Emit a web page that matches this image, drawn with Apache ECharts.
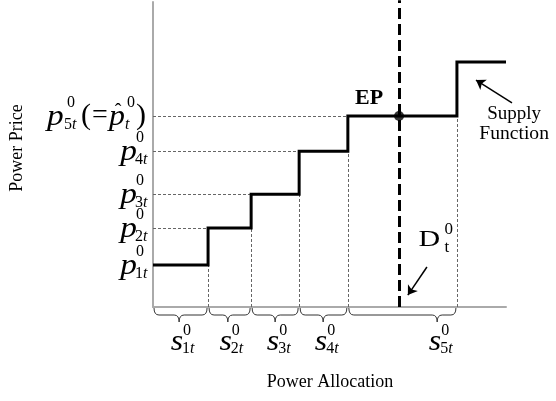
<!DOCTYPE html>
<html><head><meta charset="utf-8">
<script src="https://cdn.jsdelivr.net/npm/echarts@6/dist/echarts.min.js"></script>
<style>html,body{margin:0;padding:0;background:#fff}#c{width:556px;height:401px}</style>
</head><body><div id="c"></div>
<script>
// ---- data ----
const stepBounds = [0, 15.6, 27.8, 41.4, 55.2, 86.1, 100];   // supply blocks boundaries (power allocation)
const stepPrices = [13.8, 25.9, 37.0, 51.1, 62.6, 80.3];      // price of each block
const demandLevel = 69.7;                                     // D_t^0
const braceTips = [7.4, 21.2, 34.6, 48.2, 80.5];              // where each s brace points
const sDigits = ['1', '2', '3', '4', '5'];
const pDigits = ['1', '2', '3', '4', '5'];
const xAxisName = 'Power Allocation';
const yAxisName = 'Power Price';

// annotation anchors (data units)
const arrowDefs = [
  [[77.6, 13.1], [72.2, 3.9]],
  [[101.7, 66.9], [91.5, 74.4]]
];
const epAnchor = [61.2, 68.2];
const supplyTextAnchor = [102.3, 60.0];
const dAnchor = [78.3, 22.0];

const SERIF = '"Liberation Serif", "Times New Roman", serif';

// ---- build series data ----
const stepData = [];
for (let i = 0; i < stepPrices.length; i++) {
  stepData.push([stepBounds[i], stepPrices[i]]);
  stepData.push([stepBounds[i + 1], stepPrices[i]]);
}
const guideData = [];
for (let i = 1; i < pDigits.length; i++) {
  guideData.push({ coords: [[0, stepPrices[i]], [stepBounds[i], stepPrices[i]]] });
}
for (let i = 1; i <= sDigits.length; i++) {
  guideData.push({ coords: [[stepBounds[i], 0], [stepBounds[i], stepPrices[i - 1]]] });
}
const braceData = sDigits.map((d, i) => [stepBounds[i], stepBounds[i + 1], braceTips[i]]);

const chart = echarts.init(document.getElementById('c'));
const axisCommon = {
  type: 'value', min: 0, max: 100,
  axisLine: { show: true, onZero: false, lineStyle: { color: '#aaaaaa', width: 2 } },
  axisTick: { show: false }, axisLabel: { show: false }, splitLine: { show: false }
};
chart.setOption({
  animation: false,
  grid: { left: 153, top: 2, right: 50, bottom: 94 },
  xAxis: axisCommon,
  yAxis: axisCommon,
  series: [
    { type: 'lines', coordinateSystem: 'cartesian2d', clip: false, silent: true, data: guideData,
      lineStyle: { color: '#666', width: 1, type: [3, 2], opacity: 1 } },
    { type: 'lines', coordinateSystem: 'cartesian2d', clip: false, silent: true,
      data: [{ coords: [[demandLevel, 0], [demandLevel, 100.6]] }],
      lineStyle: { color: '#000', width: 3, type: [11, 5], opacity: 1 } },
    { type: 'line', data: stepData, symbol: 'none', silent: true,
      lineStyle: { color: '#000', width: 3, join: 'miter' } },
    { type: 'scatter', data: [[demandLevel, stepPrices[4]]], symbolSize: 10, silent: true,
      itemStyle: { color: '#000' } },
    { type: 'custom', clip: false, silent: true, data: braceData,
      renderItem: function (params, api) {
        const a = api.coord([api.value(0), 0]);
        const b = api.coord([api.value(1), 0]);
        const t = api.coord([api.value(2), 0]);
        const x0 = a[0] + 1, x1 = b[0] - 1, xt = t[0], y0 = a[1] + 1;
        const ya = y0 + 7, yt = y0 + 14, r = 5;
        const d = `M${x0} ${y0} Q${x0} ${ya} ${x0 + r} ${ya} L${xt - r} ${ya} Q${xt} ${ya} ${xt} ${yt} ` +
                  `Q${xt} ${ya} ${xt + r} ${ya} L${x1 - r} ${ya} Q${x1} ${ya} ${x1} ${y0}`;
        return { type: 'path', shape: { pathData: d }, style: { stroke: '#333', fill: null, lineWidth: 1 } };
      } },
    { type: 'lines', coordinateSystem: 'cartesian2d', clip: false, silent: true,
      data: arrowDefs.map(c => ({ coords: c })),
      symbol: ['none', 'arrow'], symbolSize: 9,
      lineStyle: { color: '#000', width: 1.5, opacity: 1 } }
  ]
});

// ---- text annotations ----
function T(x, y, text, size, o) {
  o = o || {};
  const st = {
    text: text, fill: '#000',
    font: (o.italic ? 'italic ' : '') + (o.bold ? 'bold ' : '') + size + 'px ' + SERIF,
    textAlign: o.align || 'left', textVerticalAlign: o.valign || 'middle'
  };
  if (o.rich) st.rich = o.rich;
  const el = { type: 'text', x: x, y: y, silent: true, style: st };
  if (o.rotation) el.rotation = o.rotation;
  if (o.scaleX) el.scaleX = o.scaleX;
  return el;
}
const subRich = {
  d: { fontFamily: SERIF, fontSize: 16, fill: '#000' },
  i: { fontFamily: SERIF, fontSize: 16, fontStyle: 'italic', fill: '#000' }
};
const px = v => chart.convertToPixel({ gridIndex: 0 }, v);
const origin = px([0, 0]);
const ax = origin[0], ay = origin[1];
const els = [];

// y labels
pDigits.forEach((d, i) => {
  const y = px([0, stepPrices[i]])[1];
  if (i < 4) {
    els.push(T(ax - 16, y + 1, 'p', 29, { italic: true, align: 'right', scaleX: 1.15 }));
    els.push(T(ax - 17, y - 13, '0', 16));
    els.push(T(ax - 18, y + 9, '{d|' + d + '}{i|t}', 16, { rich: subRich }));
  } else {
    els.push(T(ax - 106, y + 1, 'p', 29, { italic: true, scaleX: 1.15 }));
    els.push(T(ax - 86, y - 13, '0', 16));
    els.push(T(ax - 89, y + 9, '{d|' + d + '}{i|t}', 16, { rich: subRich }));
    els.push(T(ax - 72, y, '(', 30));
    els.push(T(ax - 61, y, '=', 28));
    els.push(T(ax - 44, y + 1, 'p', 29, { italic: true, scaleX: 1.1 }));
    els.push(T(ax - 35, y - 3, 'ˆ', 20, { align: 'center' }));
    els.push(T(ax - 26, y - 13, '0', 16));
    els.push(T(ax - 28, y + 9, '{i|t}', 16, { rich: subRich }));
    els.push(T(ax - 17, y, ')', 30));
  }
});

// s labels
sDigits.forEach((d, i) => {
  const x = px([braceTips[i], 0])[0];
  els.push(T(x + 4, ay + 35, 's', 29, { italic: true, align: 'right', scaleX: 1.1 }));
  els.push(T(x + 4, ay + 23.5, '0', 16));
  els.push(T(x + 3, ay + 42, '{d|' + d + '}{i|t}', 16, { rich: subRich }));
});

// EP, supply function, D
const ep = px(epAnchor);
els.push(T(ep[0], ep[1], 'EP', 20, { bold: true, align: 'center', scaleX: 1.1 }));
const sf = px(supplyTextAnchor);
els.push(T(sf[0], sf[1] - 10, 'Supply', 19, { align: 'center' }));
els.push(T(sf[0], sf[1] + 10, 'Function', 19, { align: 'center', scaleX: 1.03 }));
const dp = px(dAnchor);
els.push(T(dp[0], dp[1], 'D', 24, { align: 'center', scaleX: 1.25 }));
els.push(T(dp[0] + 15, dp[1] - 10, '0', 17));
els.push(T(dp[0] + 15, dp[1] + 8, 't', 17));

// axis names
els.push(T(330, 382, xAxisName, 18, { align: 'center' }));
els.push(T(17, 148, yAxisName, 18, { align: 'center', rotation: Math.PI / 2 }));

chart.setOption({ graphic: { elements: els } });
</script>
</body></html>
